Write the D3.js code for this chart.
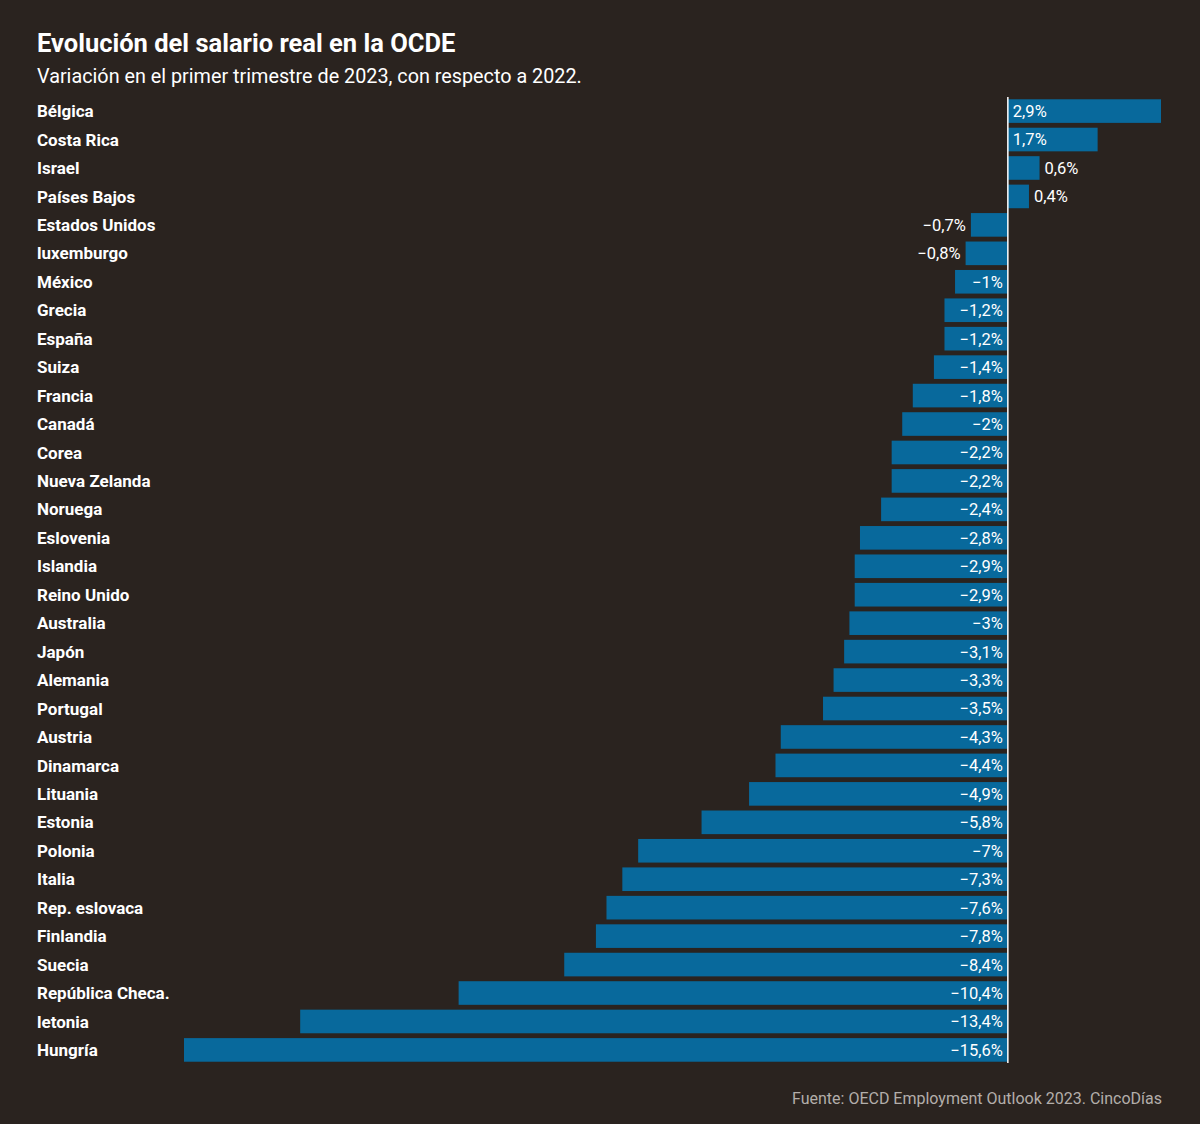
<!DOCTYPE html>
<html>
<head>
<meta charset="utf-8">
<script src="https://cdn.jsdelivr.net/npm/d3@7"></script>
<style>
  html, body { margin: 0; padding: 0; background: #2a231f; }
  svg { display: block; }
</style>
</head>
<body>
<svg id="chart"></svg>
<script>
// data
let countries = ['Bélgica', 'Costa Rica', 'Israel', 'Países Bajos', 'Estados Unidos', 'luxemburgo',
	'México', 'Grecia', 'España', 'Suiza', 'Francia', 'Canadá', 'Corea', 'Nueva Zelanda', 'Noruega',
	'Eslovenia', 'Islandia', 'Reino Unido', 'Australia', 'Japón', 'Alemania', 'Portugal', 'Austria',
	'Dinamarca', 'Lituania', 'Estonia', 'Polonia', 'Italia', 'Rep. eslovaca', 'Finlandia', 'Suecia',
	'República Checa.', 'letonia', 'Hungría'];
let values = [2.9, 1.7, 0.6, 0.4, -0.7, -0.8, -1, -1.2, -1.2, -1.4, -1.8, -2, -2.2, -2.2, -2.4,
	-2.8, -2.9, -2.9, -3, -3.1, -3.3, -3.5, -4.3, -4.4, -4.9, -5.8, -7, -7.3, -7.6, -7.8, -8.4,
	-10.4, -13.4, -15.6];

let title = 'Evolución del salario real en la OCDE';
let subtitle = 'Variación en el primer trimestre de 2023, con respecto a 2022.';
let source = 'Fuente: OECD Employment Outlook 2023. CincoDías';

let width = 1200;
let height = 1124;
let bgColor = '#2a231f';
let barColor = '#08699c';
let font = '"Liberation Sans Narrow", "Roboto", sans-serif';

let svg = d3.select('#chart')
	.attr('width', width)
	.attr('height', height)
	.style('font-family', font);

svg.append('rect')
	.attr('width', width)
	.attr('height', height)
	.attr('fill', bgColor);

let xScale = d3.scaleLinear()
	.domain([-15.6, 2.9])
	.range([184, 1161]);

let yScale = d3.scaleBand()
	.domain(countries)
	.range([97, 1064])
	.paddingInner(0.17)
	.paddingOuter(0.08);

let data = countries.map((c, i) => ({ name: c, value: values[i] }));

// title + subtitle
svg.append('text')
	.attr('x', 37).attr('y', 52)
	.attr('fill', '#fff')
	.style('font-weight', 'bold')
	.style('font-size', '25.5px')
	.text(title);

svg.append('text')
	.attr('x', 37).attr('y', 83)
	.attr('fill', '#fff')
	.style('font-size', '19.8px')
	.text(subtitle);

// bars
svg.append('g')
	.selectAll('rect')
	.data(data)
	.join('rect')
	.attr('x', d => xScale(Math.min(0, d.value)))
	.attr('y', d => yScale(d.name))
	.attr('width', d => Math.abs(xScale(d.value) - xScale(0)))
	.attr('height', yScale.bandwidth())
	.attr('fill', barColor);

// country labels
svg.append('g')
	.selectAll('text')
	.data(data)
	.join('text')
	.attr('x', 37)
	.attr('y', d => yScale(d.name) + yScale.bandwidth() / 2)
	.attr('dy', '0.36em')
	.attr('fill', '#fff')
	.style('font-weight', 'bold')
	.style('font-size', '17px')
	.text(d => d.name);

// value labels: inside when the bar is wide enough, outside otherwise
function fmt(v) {
	let s = Math.abs(v).toString().replace('.', ',') + '%';
	return v < 0 ? '\u2212' + s : s;
}

svg.append('g')
	.selectAll('text')
	.data(data)
	.join('text')
	.attr('y', d => yScale(d.name) + yScale.bandwidth() / 2)
	.attr('dy', '0.36em')
	.attr('fill', '#fff')
	.style('font-size', '16.5px')
	.each(function (d) {
		let w = Math.abs(xScale(d.value) - xScale(0));
		let inside = w > 45;
		let t = d3.select(this);
		if (d.value >= 0) {
			t.attr('x', inside ? xScale(0) + 5 : xScale(d.value) + 5).attr('text-anchor', 'start');
		} else {
			t.attr('x', inside ? xScale(0) - 5 : xScale(d.value) - 5).attr('text-anchor', 'end');
		}
	})
	.text(d => fmt(d.value));

// zero line
svg.append('line')
	.attr('x1', xScale(0)).attr('x2', xScale(0))
	.attr('y1', 97).attr('y2', 1063)
	.attr('stroke', '#fff')
	.attr('stroke-width', 1.5);

// source
svg.append('text')
	.attr('x', 1162).attr('y', 1104)
	.attr('text-anchor', 'end')
	.attr('fill', '#b3aeaa')
	.style('font-size', '16px')
	.text(source);
</script>
</body>
</html>
